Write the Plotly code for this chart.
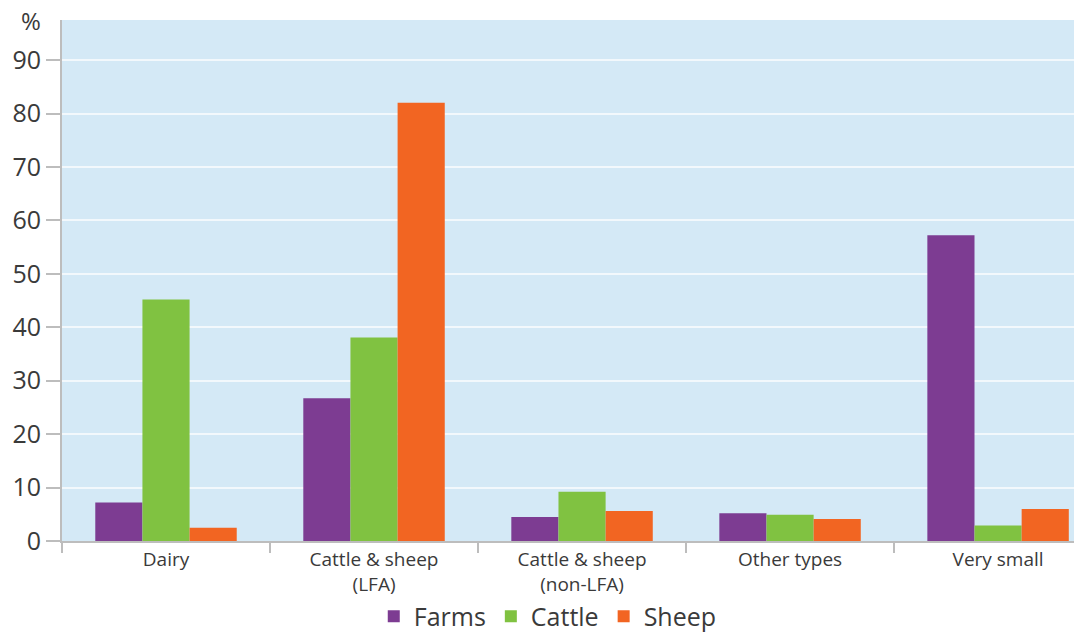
import plotly.graph_objects as go

categories = ["Dairy", "Cattle & sheep<br>(LFA)", "Cattle & sheep<br>(non-LFA)", "Other types", "Very small"]
farms = [7.2, 26.7, 4.5, 5.2, 57.2]
cattle = [45.2, 38.1, 9.2, 4.9, 2.9]
sheep = [2.5, 82.0, 5.6, 4.1, 6.0]
y_ticks = [0, 10, 20, 30, 40, 50, 60, 70, 80, 90]

colors = {"Farms": "#7D3C92", "Cattle": "#80C241", "Sheep": "#F26522"}
font_family = "Open Sans, Noto Sans, sans-serif"

fig = go.Figure()
for name, vals in [("Farms", farms), ("Cattle", cattle), ("Sheep", sheep)]:
    fig.add_trace(go.Bar(
        x=categories, y=vals, name=name,
        marker=dict(color=colors[name], line=dict(width=0)),
    ))

fig.update_layout(
    width=1074, height=637,
    margin=dict(l=62, r=0, t=20, b=96, autoexpand=False),
    paper_bgcolor="white",
    plot_bgcolor="#D4E9F6",
    barmode="group",
    bargap=0.32,
    bargroupgap=0,
    font=dict(family=font_family, color="#3a3a3a"),
    showlegend=True,
    legend=dict(
        orientation="h", x=0.48, xanchor="center",
        yref="container", y=0.032, yanchor="middle",
        font=dict(size=25, color="#3a3a3a"),
        traceorder="normal", bgcolor="rgba(0,0,0,0)",
    ),
    xaxis=dict(
        range=[-0.5, 4.365],
        showgrid=False,
        showline=True, linecolor="#BDBDBD", linewidth=2,
        ticks="outside", tickson="boundaries", ticklen=10, tickcolor="#BDBDBD", tickwidth=2,
        tickfont=dict(size=19, color="#3a3a3a"),
        automargin=False,
        fixedrange=True,
    ),
    yaxis=dict(
        range=[0, 97.5],
        tickvals=y_ticks,
        showgrid=True, gridcolor="#F2F8FC", gridwidth=2,
        showline=True, linecolor="#BDBDBD", linewidth=2,
        ticks="outside", ticklen=14, tickcolor="#BDBDBD", tickwidth=2,
        tickfont=dict(size=25, color="#3a3a3a"),
        zeroline=False,
        automargin=False,
        fixedrange=True,
    ),
    annotations=[dict(
        text="%", xref="paper", yref="paper", x=-0.031, y=1.0,
        xanchor="center", yanchor="middle", showarrow=False,
        font=dict(size=24, color="#3a3a3a"),
    )],
)

fig.write_html("out.html")
